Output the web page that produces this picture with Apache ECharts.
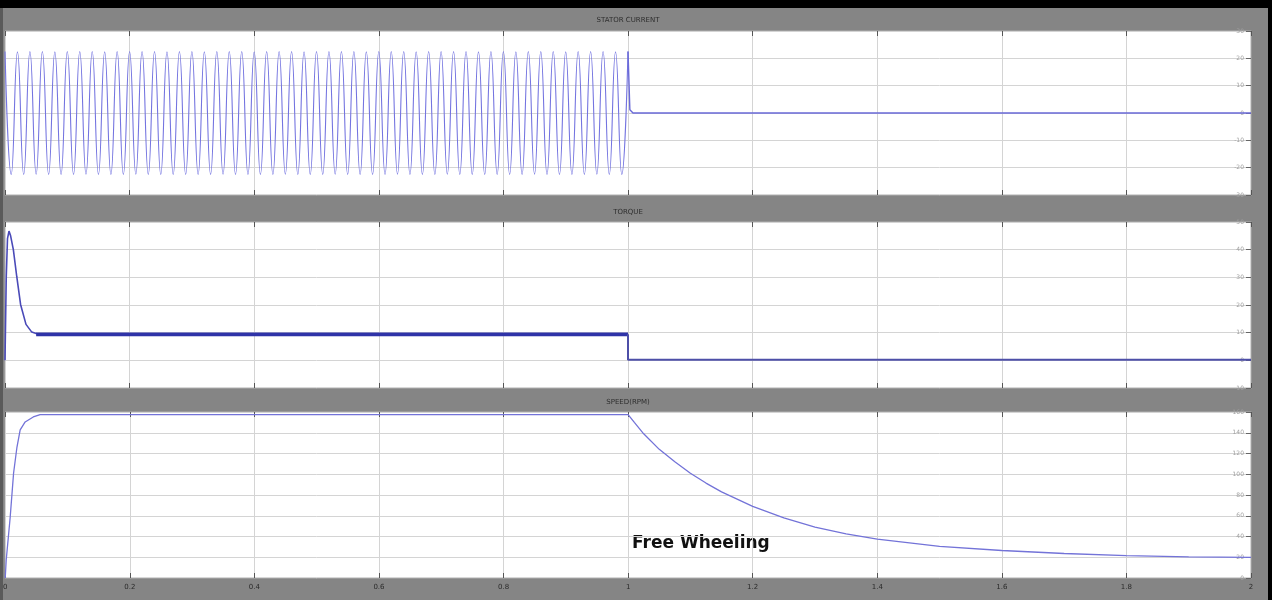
<!DOCTYPE html>
<html>
<head>
<meta charset="utf-8">
<title>Free Wheeling</title>
<script src="https://cdn.jsdelivr.net/npm/echarts@6/dist/echarts.min.js"></script>
<style>
    html, body { margin: 0; padding: 0; background: #000; }
    #scopeChart { width: 1272px; height: 600px; }
</style>
</head>
<body>
<div id="scopeChart"></div>
<script>
// x axis (time, s)
var timeTicks = [0, 0.2, 0.4, 0.6, 0.8, 1, 1.2, 1.4, 1.6, 1.8, 2];

// stator current: peak values every half period (0.01 s) up to t = 1
var currentStep = 0.01;
var currentPeaks = [
    22.5, -22.5, 22.4, -22.5, 22.5, -22.4, 22.5, -22.5, 22.4, -22.5,
    22.5, -22.5, 22.5, -22.4, 22.5, -22.5, 22.4, -22.5, 22.5, -22.5,
    22.5, -22.4, 22.5, -22.5, 22.5, -22.5, 22.4, -22.5, 22.5, -22.5,
    22.5, -22.5, 22.4, -22.5, 22.5, -22.4, 22.5, -22.5, 22.5, -22.5,
    22.4, -22.5, 22.5, -22.5, 22.5, -22.4, 22.5, -22.5, 22.4, -22.5,
    22.5, -22.5, 22.5, -22.4, 22.5, -22.5, 22.5, -22.5, 22.4, -22.5,
    22.5, -22.5, 22.5, -22.4, 22.5, -22.5, 22.4, -22.5, 22.5, -22.5,
    22.5, -22.4, 22.5, -22.5, 22.5, -22.5, 22.4, -22.5, 22.5, -22.5,
    22.5, -22.5, 22.4, -22.5, 22.5, -22.4, 22.5, -22.5, 22.5, -22.5,
    22.4, -22.5, 22.5, -22.5, 22.5, -22.4, 22.5, -22.5, 22.4, -22.5,
    22.5
];
// after the supply is removed
var currentOffTimes = [1, 1.003, 1.008, 2];
var currentOffValues = [22.5, 1.2, 0, 0];

// torque
var torqueStartTimes = [0, 0.002, 0.004, 0.0064, 0.009, 0.0134, 0.0188, 0.025, 0.0337, 0.043, 0.0535];
var torqueStartValues = [0, 30, 44, 46.7, 45, 40, 30.4, 20.2, 13, 10.2, 9.4];
var torqueRunTimes = [0.05, 1];
var torqueRunValues = [9.4, 9.4];
var torqueOffTimes = [1, 1, 2];
var torqueOffValues = [9.4, 0.2, 0.2];

// speed
var speedTimes = [0, 0.0016, 0.008, 0.0134, 0.0188, 0.024, 0.032, 0.045, 0.056, 1,
    1.01, 1.025, 1.05, 1.075, 1.1, 1.125, 1.15, 1.2, 1.25, 1.3, 1.35, 1.4, 1.5, 1.6, 1.7, 1.8, 1.9, 2];
var speedValues = [0, 17.4, 58.8, 101, 126, 142.7, 150.4, 155.2, 157.5, 157.5,
    150, 139, 124, 112, 101, 91.5, 83, 69, 58, 49, 42.5, 37.5, 30.4, 26.5, 23.6, 21.6, 20.4, 19.9];

var panelTitles = ["STATOR CURRENT", "TORQUE", "SPEED(RPM)"];
var yMins = [-30, -10, 0];
var yMaxs = [30, 50, 160];
var yIntervals = [10, 10, 20];

//把两个数组拼成点
function pairUp(times, values) {
    var list = [];
    for (var i = 0; i < times.length; i++) {
        list.push([times[i], values[i]]);
    }
    return list;
}

function currentData() {
    var list = [];
    for (var i = 0; i < currentPeaks.length; i++) {
        list.push([i * currentStep, currentPeaks[i]]);
    }
    return list;
}

var gridTops = [31, 222, 412];
var gridHeights = [164, 166, 166];

var grids = [], xAxes = [], yAxes = [];
for (var g = 0; g < 3; g++) {
    grids.push({
        left: 5, right: 21, top: gridTops[g], height: gridHeights[g],
        show: true, backgroundColor: '#ffffff', borderColor: '#b0b0b0', borderWidth: 1
    });
    // bottom axis
    xAxes.push({
        type: 'value', gridIndex: g, min: 0, max: 2, interval: 0.2, position: 'bottom',
        axisLine: { show: true, onZero: false, lineStyle: { color: '#9a9a9a' } },
        axisTick: { show: true, inside: true, length: 5, lineStyle: { color: '#555' } },
        axisLabel: {
            show: g == 2, margin: 6, fontSize: 7, color: '#2a2a2a', fontFamily: 'DejaVu Sans',
            formatter: function (v) { return timeTicks.indexOf(Math.round(v * 10) / 10) >= 0 ? String(Math.round(v * 10) / 10) : ''; }
        },
        splitLine: { show: true, lineStyle: { color: '#d4d4d4', width: 1 } }
    });
    // top axis, ticks only
    xAxes.push({
        type: 'value', gridIndex: g, min: 0, max: 2, interval: 0.2, position: 'top',
        axisLine: { show: false, onZero: false },
        axisTick: { show: true, inside: true, length: 5, lineStyle: { color: '#555' } },
        axisLabel: { show: false },
        splitLine: { show: false }
    });
    yAxes.push({
        type: 'value', gridIndex: g, min: yMins[g], max: yMaxs[g], interval: yIntervals[g], position: 'right',
        axisLine: { show: true, onZero: false, lineStyle: { color: '#9a9a9a' } },
        axisTick: { show: true, inside: true, length: 5, lineStyle: { color: '#666' } },
        axisLabel: { show: true, inside: true, margin: 7, fontSize: 6, color: '#a0a0a0', fontFamily: 'DejaVu Sans' },
        splitLine: { show: true, lineStyle: { color: '#d4d4d4', width: 1 } }
    });
}

var lineBase = { type: 'line', symbol: 'none', animation: false, silent: true };

function makeSeries(xi, yi, data, color, width, smooth) {
    var s = {};
    for (var k in lineBase) { s[k] = lineBase[k]; }
    s.xAxisIndex = xi;
    s.yAxisIndex = yi;
    s.data = data;
    s.smooth = smooth;
    s.lineStyle = { color: color, width: width };
    return s;
}

var seriesList = [
    makeSeries(0, 0, currentData(), '#7474e0', 1.1, true),
    makeSeries(0, 0, pairUp(currentOffTimes, currentOffValues), '#6a6ad8', 1.4, false),
    makeSeries(2, 1, pairUp(torqueStartTimes, torqueStartValues), '#4a4ab8', 1.6, false),
    makeSeries(2, 1, pairUp(torqueRunTimes, torqueRunValues), '#2f33a8', 3.6, false),
    makeSeries(2, 1, pairUp(torqueOffTimes, torqueOffValues), '#4d4fa8', 2, false),
    makeSeries(4, 2, pairUp(speedTimes, speedValues), '#7373d8', 1.3, false)
];

var graphics = [
    { type: 'rect', shape: { x: 0, y: 0, width: 1272, height: 8 }, style: { fill: '#000' }, silent: true },
    { type: 'rect', shape: { x: 1268, y: 0, width: 4, height: 600 }, style: { fill: '#000' }, silent: true },
    { type: 'rect', shape: { x: 0, y: 8, width: 3, height: 592 }, style: { fill: '#5a5a5a' }, silent: true }
];
var titleY = [20, 212, 402];
for (var t = 0; t < 3; t++) {
    graphics.push({
        type: 'text', x: 628, y: titleY[t], silent: true,
        style: { text: panelTitles[t], align: 'center', verticalAlign: 'middle', font: '7px "DejaVu Sans"', fill: '#2e2e2e' }
    });
}
graphics.push({
    type: 'text', x: 632, y: 544, silent: true,
    style: { text: 'Free Wheeling', align: 'left', verticalAlign: 'middle', font: 'bold 17px "DejaVu Sans"', fill: '#111' }
});

var scopeChart = echarts.init(document.getElementById('scopeChart'), null, { renderer: 'canvas' });
scopeChart.setOption({
    backgroundColor: '#858585',
    animation: false,
    grid: grids,
    xAxis: xAxes,
    yAxis: yAxes,
    series: seriesList,
    graphic: graphics
});
</script>
</body>
</html>
